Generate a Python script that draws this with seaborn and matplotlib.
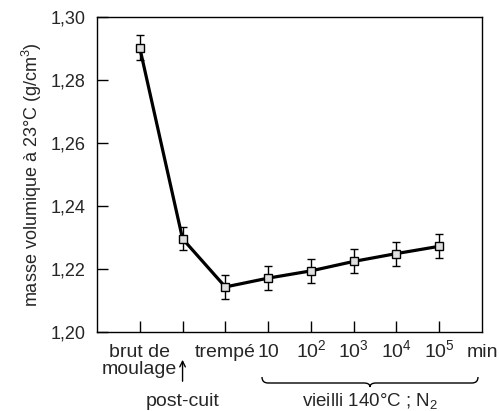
import matplotlib
matplotlib.use("Agg")
import matplotlib.pyplot as plt
import matplotlib.transforms as mtransforms
import seaborn as sns
import pandas as pd
from matplotlib.patches import PathPatch
from matplotlib.path import Path

# data
positions = [1, 2, 3, 4, 5, 6, 7, 8]
density = [1.2902, 1.2296, 1.2143, 1.2171, 1.2194, 1.2224, 1.2249, 1.2272]
errors = [0.004, 0.0037, 0.0038, 0.0038, 0.0038, 0.0038, 0.0038, 0.0038]
xlabels_pos = [1, 3, 4, 5, 6, 7, 8, 9]
xlabels = ["brut de\nmoulage", "trempé", "10", "10$^2$", "10$^3$", "10$^4$", "10$^5$", "min"]
yticks = [1.20, 1.22, 1.24, 1.26, 1.28, 1.30]
ytick_labels = ["1,20", "1,22", "1,24", "1,26", "1,28", "1,30"]

sns.set_style("ticks")
plt.rcParams['font.family'] = ['Liberation Sans', 'DejaVu Sans']
plt.rcParams['mathtext.fontset'] = 'custom'
plt.rcParams['mathtext.rm'] = 'Liberation Sans'
plt.rcParams['mathtext.it'] = 'Liberation Sans'

df = pd.DataFrame({"x": positions, "y": density, "err": errors})

fig = plt.figure(figsize=(4.99, 4.11), dpi=100)
ax = fig.add_axes([97/499, 1 - 332/411, (482-97)/499, (332-17)/411])

ax.errorbar(df["x"], df["y"], yerr=df["err"], fmt="none", ecolor="black",
            elinewidth=1, capsize=3.2, capthick=1, zorder=2)
sns.lineplot(data=df, x="x", y="y", ax=ax, color="black", lw=2.3, marker="s",
             markersize=5.5, markerfacecolor="#dedede", markeredgecolor="black",
             markeredgewidth=1, zorder=3)

ax.set_xlim(0, 9)
ax.set_ylim(1.20, 1.30)
ax.set_yticks(yticks)
ax.set_yticklabels(ytick_labels, fontsize=13)
ax.set_xticks(positions)
ax.set_xticklabels([""] * len(positions))
ax.tick_params(axis="both", direction="in", length=8, width=1, color="black")
ax.tick_params(axis="y", pad=8)
for s in ax.spines.values():
    s.set_linewidth(1)
    s.set_color("black")
ax.set_xlabel("")
ax.set_ylabel("masse volumique à 23°C (g/cm$^3$)", fontsize=13, labelpad=5)

trans = mtransforms.blended_transform_factory(ax.transData, fig.transFigure)
def fy(py):
    return 1 - py / 411

for p, lab in zip(xlabels_pos, xlabels):
    if "\n" in lab:
        l1, l2 = lab.split("\n")
        ax.text(p, fy(357), l1, transform=trans, ha="center", va="baseline", fontsize=14)
        ax.text(p, fy(374), l2, transform=trans, ha="center", va="baseline", fontsize=14)
    else:
        ax.text(p, fy(357), lab, transform=trans, ha="center", va="baseline", fontsize=14)

# arrow for post-cuit
ax.annotate("", xy=(2, fy(357)), xycoords=trans, xytext=(2, fy(384)), textcoords=trans,
            arrowprops=dict(arrowstyle="->", lw=1, color="black"), annotation_clip=False)
ax.text(2, fy(406), "post-cuit", transform=trans, ha="center", va="baseline", fontsize=14)

# brace
x0 = 262 / 499; x1 = 478 / 499; xm = (x0 + x1) / 2
yb = fy(377); yt = fy(387)
ym = fy(383)
verts = [(x0, yb), (x0, ym), (x0 + 0.012, ym), (xm - 0.012, ym), (xm, ym), (xm, yt),
         (xm, ym), (xm + 0.012, ym), (x1 - 0.012, ym), (x1, ym), (x1, yb)]
codes = [Path.MOVETO, Path.CURVE3, Path.CURVE3, Path.LINETO, Path.CURVE3, Path.CURVE3,
         Path.CURVE3, Path.CURVE3, Path.LINETO, Path.CURVE3, Path.CURVE3]
fig.patches.append(PathPatch(Path(verts, codes), transform=fig.transFigure,
                             fill=False, lw=1, color="black"))
fig.text(xm, fy(406), "vieilli 140°C ; N$_2$", ha="center", va="baseline", fontsize=13.5)

fig.savefig("out.png", dpi=100)
